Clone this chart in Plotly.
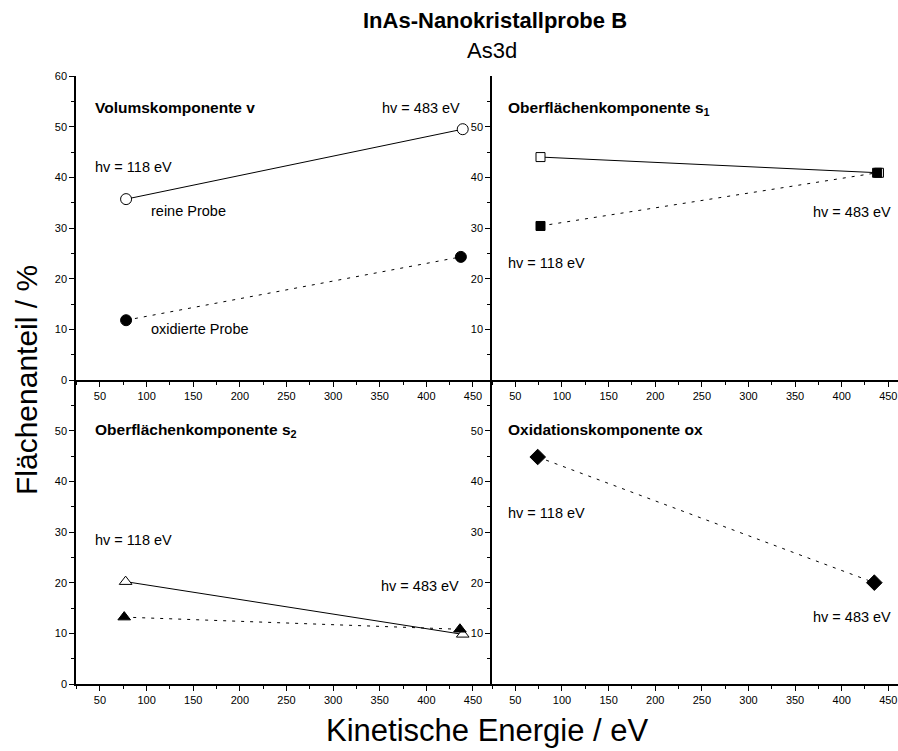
import plotly.graph_objects as go

# ---------------- data ----------------
v_rein_x = [78, 439]
v_rein_y = [35.7, 49.5]
v_oxid_x = [78, 437]
v_oxid_y = [11.8, 24.3]

s1_rein_x = [77, 440]
s1_rein_y = [44.0, 40.9]
s1_oxid_x = [77, 438]
s1_oxid_y = [30.4, 40.9]

s2_rein_x = [77.5, 439]
s2_rein_y = [20.2, 9.8]
s2_oxid_x = [76, 436]
s2_oxid_y = [13.2, 10.8]

ox_oxid_x = [74, 435]
ox_oxid_y = [44.8, 20.0]

x_ticks = [50, 100, 150, 200, 250, 300, 350, 400, 450]
x_minor = [25, 75, 125, 175, 225, 275, 325, 375, 425]
y_ticks_tl = [0, 10, 20, 30, 40, 50, 60]
y_ticks_bl = [0, 10, 20, 30, 40, 50]
y_ticks_r = [10, 20, 30, 40, 50]
y_minor = [5, 15, 25, 35, 45, 55]

FONT = "Arial, Liberation Sans, sans-serif"
BLACK = "#000000"
DASH = "3px,6px"

fig = go.Figure()

def add_pair(x, y, xa, ya, symbol, size, dashed, filled):
    fig.add_trace(go.Scatter(
        x=x, y=y, xaxis=xa, yaxis=ya, mode="lines+markers",
        line=dict(color=BLACK, width=1, dash=DASH if dashed else "solid"),
        marker=dict(symbol=symbol, size=size,
                    color=BLACK if filled else "white",
                    line=dict(color=BLACK, width=1)),
        showlegend=False, hoverinfo="skip"))

# top-left: Volumskomponente
add_pair(v_rein_x, v_rein_y, "x", "y", "circle", 11, False, False)
add_pair(v_oxid_x, v_oxid_y, "x", "y", "circle", 11, True, True)
# top-right: s1
add_pair(s1_rein_x, s1_rein_y, "x2", "y2", "square", 9, False, False)
add_pair(s1_oxid_x, s1_oxid_y, "x2", "y2", "square", 9, True, True)
# bottom-left: s2
add_pair(s2_rein_x, s2_rein_y, "x3", "y3", "triangle-up", 11, False, False)
add_pair(s2_oxid_x, s2_oxid_y, "x3", "y3", "triangle-up", 11, True, True)
# bottom-right: ox
add_pair(ox_oxid_x, ox_oxid_y, "x4", "y4", "diamond", 12, True, True)

XL = [0, 0.5061]
XR = [0.5061, 1]
RANGE_L = [24.3, 470.4]
RANGE_R = [25, 460.4]

def xaxis(domain, anchor, rng):
    return dict(domain=domain, anchor=anchor, range=rng, showline=True,
                linecolor=BLACK, linewidth=1.5, ticks="outside", ticklen=5,
                tickwidth=1.2, tickcolor=BLACK, tickmode="array", tickvals=x_ticks,
                showgrid=False, zeroline=False,
                tickfont=dict(family=FONT, size=11, color=BLACK),
                minor=dict(tickmode="array", tickvals=x_minor, ticks="outside",
                           ticklen=3, tickwidth=1.2, tickcolor=BLACK, showgrid=False))

def yaxis(domain, anchor, vals):
    return dict(domain=domain, anchor=anchor, range=[0, 60], showline=True,
                linecolor=BLACK, linewidth=1.5, ticks="outside", ticklen=5,
                tickwidth=1.2, tickcolor=BLACK, tickmode="array", tickvals=vals,
                showgrid=False, zeroline=False,
                tickfont=dict(family=FONT, size=11, color=BLACK),
                minor=dict(tickmode="array", tickvals=y_minor, ticks="outside",
                           ticklen=3, tickwidth=1.2, tickcolor=BLACK, showgrid=False))

def topaxis(overlay, anchor, domain, rng):
    return dict(overlaying=overlay, anchor=anchor, side="top", domain=domain,
                range=rng, showline=True, linecolor=BLACK, linewidth=1.5,
                ticks="inside", ticklen=5, tickwidth=1.2, tickcolor=BLACK,
                tickmode="array", tickvals=x_ticks, showticklabels=False,
                showgrid=False, zeroline=False,
                minor=dict(tickmode="array", tickvals=x_minor, ticks="inside",
                           ticklen=3, tickwidth=1.2, tickcolor=BLACK, showgrid=False))

layout = dict(
    width=898, height=751,
    margin=dict(l=76, r=0, t=76, b=67),
    paper_bgcolor="white", plot_bgcolor="white",
    font=dict(family=FONT, color=BLACK),
    xaxis=xaxis(XL, "y", RANGE_L),
    yaxis=yaxis([0.5, 1], "x", y_ticks_tl),
    xaxis2=xaxis(XR, "y2", RANGE_R),
    yaxis2=yaxis([0.5, 1], "x2", y_ticks_r),
    xaxis3=xaxis(XL, "y3", RANGE_L),
    yaxis3=yaxis([0, 0.5], "x3", y_ticks_bl),
    xaxis4=xaxis(XR, "y4", RANGE_R),
    yaxis4=yaxis([0, 0.5], "x4", y_ticks_r),
    xaxis5=topaxis("x", "y", XL, RANGE_L),
    xaxis6=topaxis("x2", "y2", XR, RANGE_R),
)
fig.update_layout(**layout)

REG = dict(family=FONT, size=14.5, color=BLACK)
BOLD = dict(family=FONT, size=15.5, color=BLACK, weight="bold")

def ann(text, x, y, xref, yref, xanchor, font):
    fig.add_annotation(text=text, x=x, y=y, xref=xref, yref=yref,
                       xanchor=xanchor, yanchor="middle", showarrow=False,
                       font=font)

# top-left
ann("Volumskomponente v", 42, 53.7, "x", "y", "left", BOLD)
ann("hv = 483 eV", 438, 53.7, "x", "y", "right", REG)
ann("hv = 118 eV", 43, 42, "x", "y", "left", REG)
ann("reine Probe", 103, 33.4, "x", "y", "left", REG)
ann("oxidierte Probe", 103, 10, "x", "y", "left", REG)
# top-right
ann("Oberflächenkomponente s<sub>1</sub>", 40, 53.6, "x2", "y2", "left", BOLD)
ann("hv = 483 eV", 454.6, 33.2, "x2", "y2", "right", REG)
ann("hv = 118 eV", 40, 23, "x2", "y2", "left", REG)
# bottom-left
ann("Oberflächenkomponente s<sub>2</sub>", 42, 50.1, "x3", "y3", "left", BOLD)
ann("hv = 118 eV", 43, 28.4, "x3", "y3", "left", REG)
ann("hv = 483 eV", 436.8, 19.3, "x3", "y3", "right", REG)
# bottom-right
ann("Oxidationskomponente ox", 40, 50.3, "x4", "y4", "left", BOLD)
ann("hv = 118 eV", 40, 33.7, "x4", "y4", "left", REG)
ann("hv = 483 eV", 454.6, 13.2, "x4", "y4", "right", REG)

# titles
fig.add_annotation(text="<b>InAs-Nanokristallprobe B</b>", x=(495 - 76) / 822,
                   y=(684 - 20) / 608, xref="paper", yref="paper",
                   xanchor="center", yanchor="middle", showarrow=False,
                   font=dict(family=FONT, size=22, color=BLACK))
fig.add_annotation(text="As3d", x=(492 - 76) / 822, y=(684 - 51) / 608,
                   xref="paper", yref="paper", xanchor="center", yanchor="middle",
                   showarrow=False, font=dict(family=FONT, size=22, color=BLACK))
fig.add_annotation(text="Kinetische Energie / eV", x=0.5, y=(684 - 730) / 608,
                   xref="paper", yref="paper", xanchor="center", yanchor="middle",
                   showarrow=False, font=dict(family=FONT, size=31, color=BLACK))
fig.add_annotation(text="Flächenanteil / %", x=(26 - 76) / 822, y=0.5,
                   xref="paper", yref="paper", xanchor="center", yanchor="middle",
                   textangle=-90, showarrow=False,
                   font=dict(family=FONT, size=30, color=BLACK))

fig.write_html("out.html",
               config={"displayModeBar": False},
               post_script="document.body.style.margin='0';"
                           "document.body.style.overflow='hidden';")
